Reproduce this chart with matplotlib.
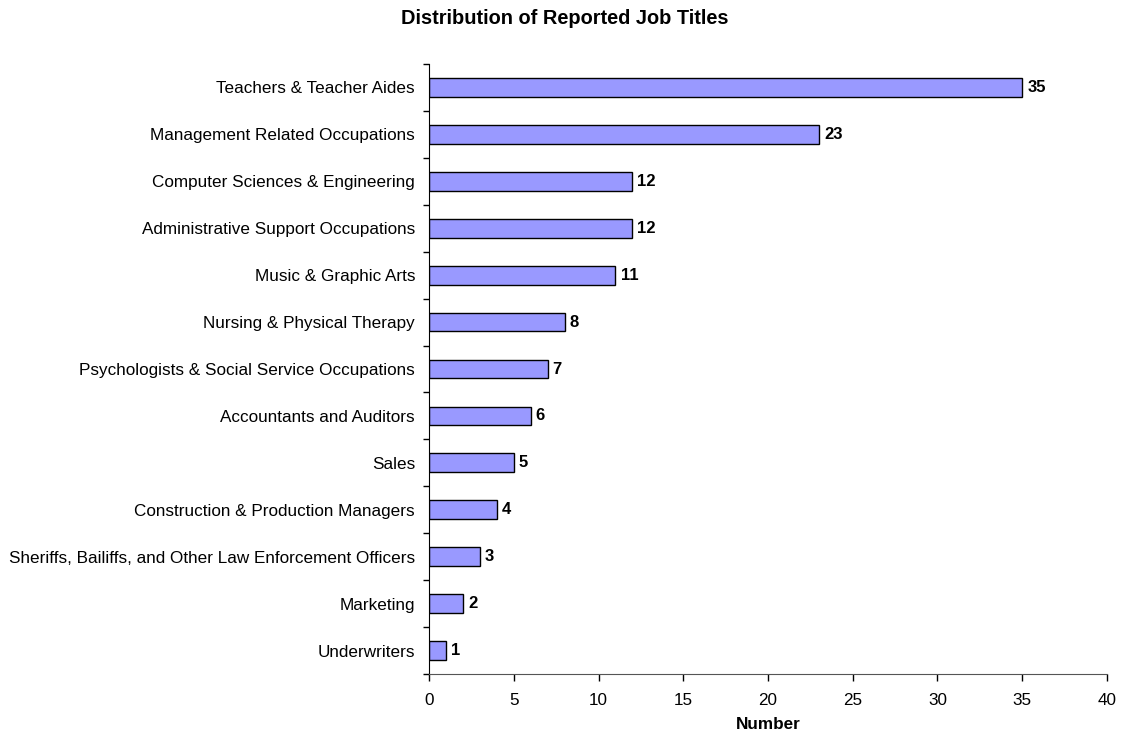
import numpy as np
import matplotlib.pyplot as plt

plt.rcParams['font.family'] = ['Liberation Sans', 'DejaVu Sans']

# --- data ---
categories = [
    'Teachers & Teacher Aides',
    'Management Related Occupations',
    'Computer Sciences & Engineering',
    'Administrative Support Occupations',
    'Music & Graphic Arts',
    'Nursing & Physical Therapy',
    'Psychologists & Social Service Occupations',
    'Accountants and Auditors',
    'Sales',
    'Construction & Production Managers',
    'Sheriffs, Bailiffs, and Other Law Enforcement Officers',
    'Marketing',
    'Underwriters',
]
counts = [35, 23, 12, 12, 11, 8, 7, 6, 5, 4, 3, 2, 1]

fig = plt.figure(figsize=(11.21, 7.36), dpi=100)
ax = fig.add_axes([0.3827, 0.0842, 0.6048, 0.8288])

n = len(categories)
ypos = np.arange(n)[::-1]
ax.barh(ypos, counts, height=0.4, color='#9999FF', edgecolor='black', linewidth=1.0, zorder=2)

for y, v in zip(ypos, counts):
    ax.text(v + 0.3, y, str(v), ha='left', va='center', fontsize=12, fontweight='bold')

ax.set_xlim(0, 40)
ax.set_ylim(-0.5, n - 0.5)
ax.set_xticks(np.arange(0, 41, 5))
ax.set_yticks(ypos)
ax.set_yticklabels(categories)
ax.set_yticks(np.arange(-0.5, n, 1), minor=True)
ax.tick_params(axis='y', which='major', length=0, labelsize=12.3, pad=10)
ax.tick_params(axis='y', which='minor', length=4, width=1, direction='out')
ax.tick_params(axis='x', length=5, width=1, direction='out', labelsize=12.3, pad=9)

for s in ['top', 'right']:
    ax.spines[s].set_visible(False)
ax.spines['left'].set_color('black')
ax.spines['bottom'].set_color('#555555')

ax.set_xlabel('Number', fontsize=12.3, fontweight='bold', labelpad=6)
fig.suptitle('Distribution of Reported Job Titles', x=0.504, y=0.988, fontsize=14.4, fontweight='bold')

fig.savefig('out.png', dpi=100)
